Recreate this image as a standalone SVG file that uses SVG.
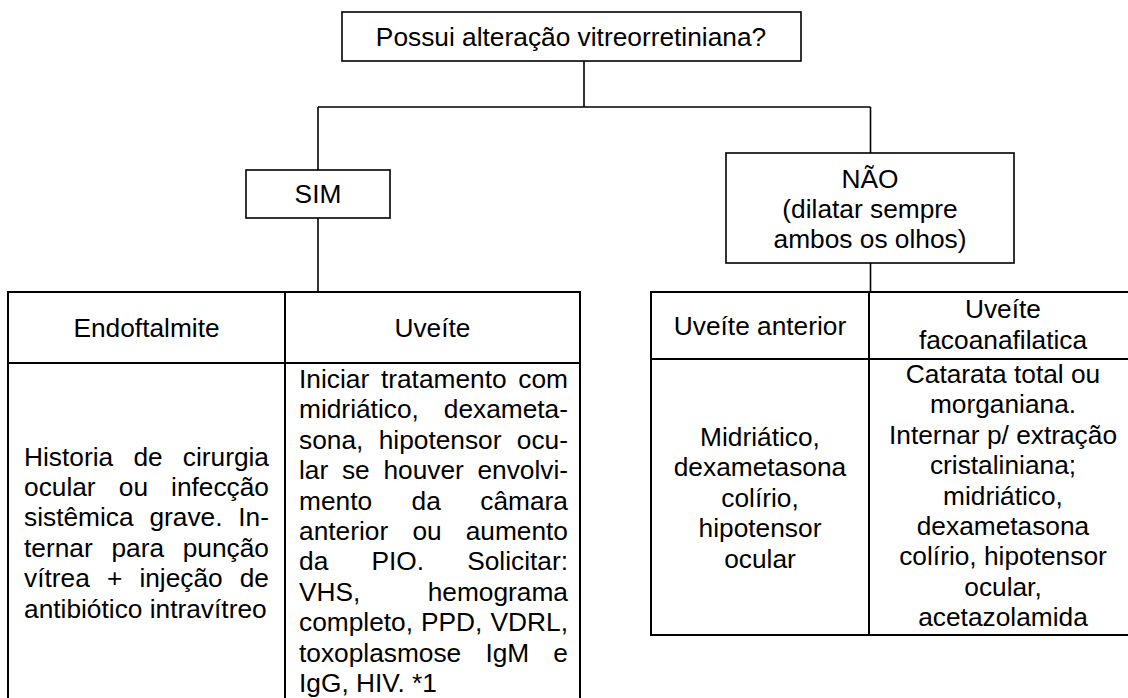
<svg xmlns="http://www.w3.org/2000/svg" width="1128" height="698" viewBox="0 0 1128 698">
<style>
text{font-family:"Liberation Sans",Arial,sans-serif;font-size:26.3px;fill:#000}
.c{text-anchor:middle}
.e{text-anchor:end}
.box{fill:#fff;stroke:#000;stroke-width:1.6}
.tb{fill:none;stroke:#000;stroke-width:2}
.ln{fill:none;stroke:#000;stroke-width:1.6}
</style>
<rect width="1128" height="698" fill="#fff"/>
<g id="connectors">
<path class="ln" d="M584 61V107M318 107H870.5M318 107V170M870.5 107V153M318 218V292M870.5 263V292"/>
</g>
<g id="root">
<rect class="box" x="342" y="12" width="459" height="49"/>
<text class="c" x="571" y="46">Possui alteração vitreorretiniana?</text>
</g>
<g id="sim">
<rect class="box" x="246" y="170" width="144" height="48"/>
<text class="c" x="318" y="203">SIM</text>
</g>
<g id="nao">
<rect class="box" x="726" y="153" width="288" height="110"/>
<text class="c" x="870" y="188">NÃO</text>
<text class="c" x="870" y="218">(dilatar sempre</text>
<text class="c" x="870" y="248">ambos os olhos)</text>
</g>
<g id="table-sim">
<path class="tb" d="M8 700V292H580V700M8 363H580M285 292V700"/>
<text class="c" x="146.5" y="337">Endoftalmite</text>
<text class="c" x="432.5" y="337">Uveíte</text>
</g>
<g id="endoftalmite">
<text y="465.5"><tspan x="24">Historia</tspan><tspan x="133.4">de</tspan><tspan x="269" class="e">cirurgia</tspan></text>
<text y="495.9"><tspan x="24">ocular</tspan><tspan x="118.8">ou</tspan><tspan x="269" class="e">infecção</tspan></text>
<text y="526.3"><tspan x="24">sistêmica</tspan><tspan x="149.4">grave.</tspan><tspan x="269" class="e">In-</tspan></text>
<text y="556.7"><tspan x="24">ternar</tspan><tspan x="111.4">para</tspan><tspan x="269" class="e">punção</tspan></text>
<text y="587.1"><tspan x="24">vítrea</tspan><tspan x="106.9">+</tspan><tspan x="139.4">injeção</tspan><tspan x="269" class="e">de</tspan></text>
<text x="24" y="617.5">antibiótico intravítreo</text>
</g>
<g id="uveite">
<text y="388"><tspan x="299">Iniciar</tspan><tspan x="380.9">tratamento</tspan><tspan x="568" class="e">com</tspan></text>
<text y="418.4"><tspan x="299">midriático,</tspan><tspan x="568" class="e">dexameta-</tspan></text>
<text y="448.8"><tspan x="299">sona,</tspan><tspan x="378.7">hipotensor</tspan><tspan x="568" class="e">ocu-</tspan></text>
<text y="479.2"><tspan x="299">lar</tspan><tspan x="341.9">se</tspan><tspan x="383.4">houver</tspan><tspan x="568" class="e">envolvi-</tspan></text>
<text y="509.6"><tspan x="299">mento</tspan><tspan x="411.6">da</tspan><tspan x="568" class="e">câmara</tspan></text>
<text y="540"><tspan x="299">anterior</tspan><tspan x="412.4">ou</tspan><tspan x="568" class="e">aumento</tspan></text>
<text y="570.4"><tspan x="299">da</tspan><tspan x="371.4">PIO.</tspan><tspan x="568" class="e">Solicitar:</tspan></text>
<text y="600.8"><tspan x="299">VHS,</tspan><tspan x="568" class="e">hemograma</tspan></text>
<text y="631.2"><tspan x="299">completo,</tspan><tspan x="421">PPD,</tspan><tspan x="568" class="e">VDRL,</tspan></text>
<text y="661.6"><tspan x="299">toxoplasmose</tspan><tspan x="485.4">IgM</tspan><tspan x="568" class="e">e</tspan></text>
<text x="299" y="692">IgG, HIV. *1</text>
</g>
<g id="table-nao">
<path class="tb" d="M1140 292H651V635H1140M651 359H1140M869 292V635"/>
<text class="c" x="760" y="335">Uveíte anterior</text>
<text class="c" x="1003" y="318">Uveíte</text>
<text class="c" x="1003" y="349">facoanafilatica</text>
</g>
<g id="uveite-anterior">
<text class="c" x="760" y="446">Midriático,</text>
<text class="c" x="760" y="476.4">dexametasona</text>
<text class="c" x="760" y="506.8">colírio,</text>
<text class="c" x="760" y="537.2">hipotensor</text>
<text class="c" x="760" y="567.6">ocular</text>
</g>
<g id="uveite-facoanafilatica">
<text class="c" x="1003" y="383">Catarata total ou</text>
<text class="c" x="1003" y="413.4">morganiana.</text>
<text class="c" x="1003" y="443.8">Internar p/ extração</text>
<text class="c" x="1003" y="474.2">cristaliniana;</text>
<text class="c" x="1003" y="504.6">midriático,</text>
<text class="c" x="1003" y="535">dexametasona</text>
<text class="c" x="1003" y="565.4">colírio, hipotensor</text>
<text class="c" x="1003" y="595.8">ocular,</text>
<text class="c" x="1003" y="626.2">acetazolamida</text>
</g>
</svg>
